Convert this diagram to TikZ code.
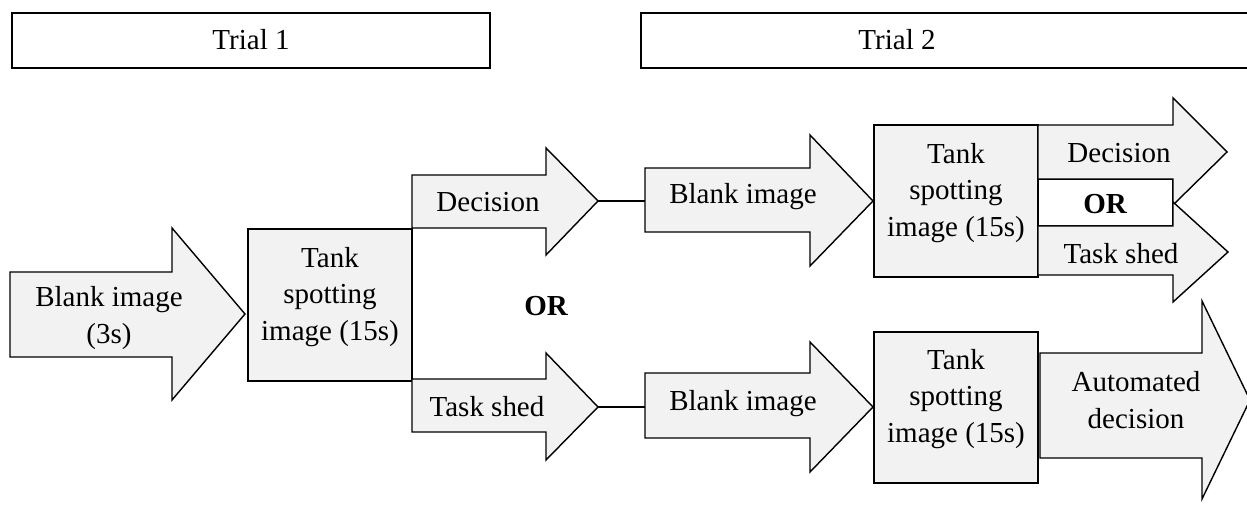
\documentclass[tikz,border=0pt]{standalone}
\usepackage{fontspec}
\setmainfont{Liberation Serif}
\usetikzlibrary{positioning,calc}
\definecolor{shadefill}{RGB}{242,242,242}

\begin{document}
\begin{tikzpicture}[x=0.02cm, y=-0.02cm, line join=miter,
		font=\fontsize{16.5}{21}\selectfont,
		flowshape/.style={draw, fill=shadefill, line width=0.8pt},
		flowline/.style={draw, line width=0.8pt},
		trialframe/.style={draw, line width=1.1pt},
		flowtext/.style={align=center, inner sep=0pt}]
		\useasboundingbox (0,0) rectangle (1247,506);
		\clip (0,0) rectangle (1247,506);
		% trial headers
		\draw [trialframe] (12,13) rectangle (490,68);
		\node [flowtext] (trialone) at (251,40) {Trial 1};
		\draw [trialframe] (641,13) rectangle (1262,68);
		\node [flowtext] (trialtwo) at (897,40) {Trial 2};
		% trial 1
		\draw [flowshape] (10,272) -- (172,272) -- (172,228) -- (245,314) -- (172,400) -- (172,357) -- (10,357) -- cycle;
		\node [flowtext] (blankone) at (109,318) {Blank image\\(3s)};
		\draw [flowshape] (248,229) rectangle (412,381);
		\node [flowtext] (tankone) at (330,297) {Tank\\spotting\\image (15s)};
		\draw [flowshape] (412,175) -- (546,175) -- (546,148) -- (598,201) -- (546,255) -- (546,228) -- (412,228) -- cycle;
		\node [flowtext] (decone) at (488,202) {Decision};
		\draw [flowshape] (412,379) -- (546,379) -- (546,353) -- (598,407) -- (546,460) -- (546,432) -- (412,432) -- cycle;
		\node [flowtext] (shedone) at (487,407) {Task shed};
		\node [flowtext, font=\fontsize{16.5}{21}\selectfont\bfseries] (orone) at (546,306) {OR};
		% connectors
		\coordinate (dectip) at (598,201);
		\coordinate (blanktopin) at (645,201);
		\coordinate (shedtip) at (598,407);
		\coordinate (blanklowin) at (645,407);
		\draw [flowline] (dectip) -- (blanktopin);
		\draw [flowline] (shedtip) -- (blanklowin);
		% trial 2, after a decision
		\draw [flowshape] (645,168) -- (810,168) -- (810,135) -- (873,201) -- (810,266) -- (810,232) -- (645,232) -- cycle;
		\node [flowtext] (blanktop) at (743,197) {Blank image};
		\draw [flowshape] (874,125) rectangle (1038,277);
		\node [flowtext] (tanktop) at (956,193) {Tank\\spotting\\image (15s)};
		\draw [flowline, fill=white] (1038,179) rectangle (1173,226);
		\node [flowtext, font=\fontsize{16.5}{21}\selectfont\bfseries] (ortwo) at (1105,204) {OR};
		\draw [flowshape] (1038,125) -- (1173,125) -- (1173,98) -- (1227,152) -- (1173,205) -- (1173,179) -- (1038,179) -- cycle;
		\node [flowtext] (dectwo) at (1119,153) {Decision};
		\draw [flowshape] (1038,226) -- (1173,226) -- (1173,202) -- (1228,252) -- (1173,302) -- (1173,275) -- (1038,275) -- cycle;
		\node [flowtext] (shedtwo) at (1121,254) {Task shed};
		% trial 2, after a task shed
		\draw [flowshape] (645,373) -- (810,373) -- (810,342) -- (873,407) -- (810,472) -- (810,438) -- (645,438) -- cycle;
		\node [flowtext] (blanklow) at (743,404) {Blank image};
		\draw [flowshape] (874,332) rectangle (1038,483);
		\node [flowtext] (tanklow) at (956,399) {Tank\\spotting\\image (15s)};
		\draw [flowshape] (1040,353) -- (1202,353) -- (1202,301) -- (1250,400) -- (1202,499) -- (1202,458) -- (1040,458) -- cycle;
		\node [flowtext] (autodec) at (1136,400) {Automated\\decision};
	\end{tikzpicture}
\end{document}
